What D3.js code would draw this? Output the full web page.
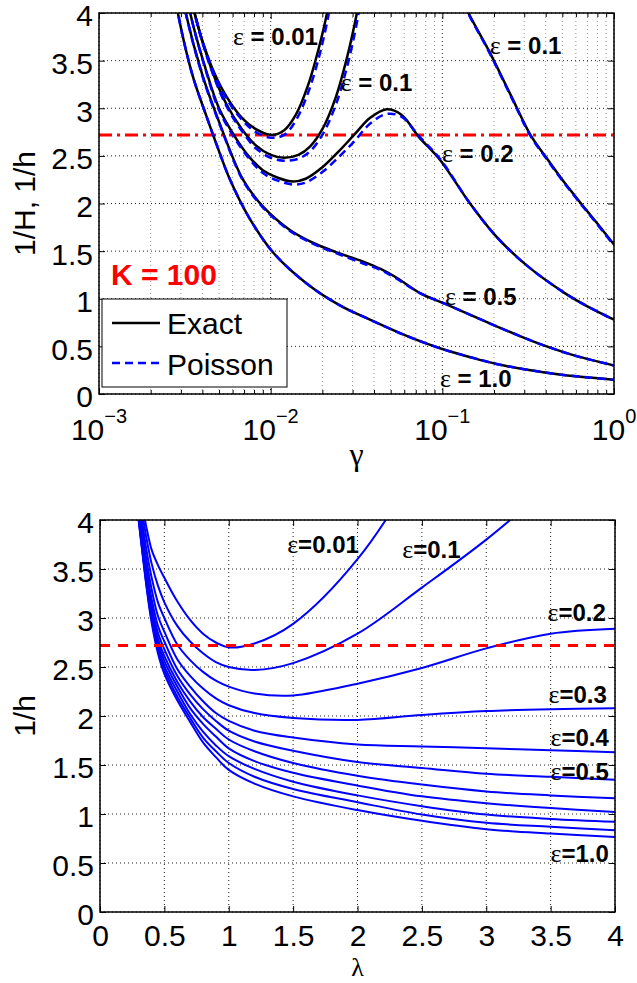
<!DOCTYPE html>
<html>
<head>
<meta charset="utf-8">
<script src="https://cdn.jsdelivr.net/npm/d3@7"></script>
<style>
  body { margin: 0; background: #fff; }
  svg { display: block; }
  text { white-space: pre; }
</style>
</head>
<body>
<svg id="chart" width="637" height="983"></svg>
<script>
// ---- top panel: 1/H (exact) and 1/h (Poisson) vs gamma, K = 100 ----
const gammaE001 = [0.0030, 0.0036, 0.0045, 0.0055, 0.0068, 0.0082, 0.0101, 0.0120, 0.0140, 0.0165, 0.0190, 0.0213, 0.0240];
const exactE001 = [4.75, 4.00, 3.45, 3.13, 2.90, 2.78, 2.72, 2.77, 2.93, 3.24, 3.62, 4.00, 4.55];
const poissonE001 = [4.75, 4.00, 3.44, 3.11, 2.88, 2.75, 2.69, 2.72, 2.87, 3.16, 3.52, 3.90, 4.42];

const gammaE01 = [0.0030, 0.0036, 0.0045, 0.0055, 0.0068, 0.0082, 0.0100, 0.0120, 0.0145, 0.0170, 0.0200, 0.0240, 0.0280, 0.0318, 0.0360, 0.045, 0.060, 0.075, 0.100, 0.120, 0.142, 0.186, 0.250, 0.326, 0.400, 0.500, 0.650, 0.800, 1.000];
const exactE01 = [4.75, 4.00, 3.42, 3.05, 2.78, 2.61, 2.51, 2.48, 2.51, 2.60, 2.78, 3.12, 3.55, 4.00, 4.55, 5.10, 5.40, 5.35, 4.85, 4.30, 4.00, 3.61, 3.14, 2.72, 2.49, 2.25, 1.99, 1.79, 1.57];
const poissonE01 = [4.75, 4.00, 3.41, 3.03, 2.76, 2.58, 2.48, 2.45, 2.47, 2.55, 2.72, 3.04, 3.45, 3.90, 4.45, 5.00, 5.30, 5.25, 4.80, 4.28, 3.99, 3.60, 3.13, 2.71, 2.48, 2.24, 1.98, 1.78, 1.56];

const gammaE02 = [0.0030, 0.0034, 0.0042, 0.0050, 0.0062, 0.0075, 0.0090, 0.0110, 0.0135, 0.0160, 0.0200, 0.0250, 0.0306, 0.0380, 0.0474, 0.0580, 0.0729, 0.0968, 0.145, 0.207, 0.310, 0.506, 0.700, 1.000];
const exactE02 = [4.60, 4.00, 3.40, 3.00, 2.70, 2.49, 2.35, 2.27, 2.23, 2.26, 2.38, 2.55, 2.72, 2.90, 2.99, 2.93, 2.70, 2.46, 2.00, 1.65, 1.35, 1.07, 0.92, 0.78];
const poissonE02 = [4.60, 4.00, 3.39, 2.98, 2.68, 2.47, 2.32, 2.24, 2.20, 2.22, 2.33, 2.49, 2.65, 2.84, 2.94, 2.91, 2.71, 2.47, 2.00, 1.65, 1.35, 1.07, 0.92, 0.78];

const gammaE05 = [0.0028, 0.0032, 0.0040, 0.0050, 0.0069, 0.0090, 0.0130, 0.0180, 0.0240, 0.0346, 0.0440, 0.0542, 0.0741, 0.106, 0.150, 0.207, 0.300, 0.405, 0.600, 1.000];
const exactE05 = [4.55, 4.00, 3.35, 2.86, 2.25, 1.97, 1.72, 1.58, 1.49, 1.39, 1.31, 1.22, 1.06, 0.94, 0.82, 0.71, 0.59, 0.50, 0.40, 0.30];
const poissonE05 = [4.55, 4.00, 3.34, 2.85, 2.24, 1.96, 1.71, 1.57, 1.48, 1.37, 1.30, 1.21, 1.06, 0.94, 0.82, 0.71, 0.59, 0.50, 0.40, 0.30];

const gammaE10 = [0.0026, 0.00288, 0.0035, 0.0042, 0.0050, 0.0058, 0.0075, 0.0104, 0.0162, 0.0253, 0.0379, 0.060, 0.0968, 0.150, 0.207, 0.300, 0.506, 0.750, 1.000];
const exactE10 = [4.50, 4.00, 3.35, 2.93, 2.55, 2.25, 1.85, 1.48, 1.16, 0.93, 0.78, 0.62, 0.48, 0.38, 0.315, 0.26, 0.20, 0.17, 0.15];
const poissonE10 = [4.50, 4.00, 3.35, 2.93, 2.55, 2.25, 1.85, 1.48, 1.16, 0.93, 0.78, 0.62, 0.48, 0.38, 0.315, 0.26, 0.20, 0.17, 0.15];

// ---- bottom panel: 1/h vs lambda ----
const lambdaValues = [0.28, 0.30, 0.33, 0.36, 0.40, 0.45, 0.50, 0.60, 0.70, 0.80, 0.90, 1.00, 1.20, 1.50, 2.00, 2.50, 3.00, 3.50, 4.00];
const hE001 = [4.80, 4.50, 4.15, 3.93, 3.70, 3.54, 3.41, 3.17, 2.98, 2.84, 2.75, 2.70, 2.74, 2.94, 3.60, 4.60, 5.80, 7.20, 8.80];
const hE01 = [4.70, 4.40, 4.06, 3.82, 3.56, 3.33, 3.16, 2.92, 2.76, 2.64, 2.55, 2.50, 2.47, 2.54, 2.84, 3.31, 3.80, 4.35, 4.90];
const hE02 = [4.60, 4.30, 3.96, 3.70, 3.42, 3.16, 3.00, 2.73, 2.57, 2.45, 2.36, 2.30, 2.23, 2.21, 2.33, 2.49, 2.69, 2.84, 2.89];
const hE03 = [4.52, 4.22, 3.88, 3.60, 3.30, 3.02, 2.86, 2.58, 2.41, 2.28, 2.18, 2.11, 2.03, 1.98, 1.96, 2.01, 2.05, 2.07, 2.08];
const hE04 = [4.45, 4.16, 3.82, 3.52, 3.20, 2.92, 2.76, 2.48, 2.30, 2.15, 2.03, 1.95, 1.85, 1.78, 1.71, 1.69, 1.67, 1.65, 1.63];
const hE05 = [4.40, 4.11, 3.77, 3.47, 3.13, 2.85, 2.68, 2.41, 2.22, 2.07, 1.95, 1.85, 1.74, 1.645, 1.53, 1.47, 1.41, 1.38, 1.35];
const hE06 = [4.36, 4.08, 3.74, 3.43, 3.09, 2.79, 2.61, 2.35, 2.15, 1.99, 1.87, 1.76, 1.64, 1.52, 1.39, 1.30, 1.23, 1.19, 1.16];
const hE07 = [4.33, 4.05, 3.71, 3.40, 3.05, 2.75, 2.56, 2.30, 2.08, 1.92, 1.79, 1.67, 1.54, 1.42, 1.29, 1.18, 1.11, 1.06, 1.02];
const hE08 = [4.30, 4.03, 3.69, 3.37, 3.02, 2.71, 2.51, 2.25, 2.02, 1.84, 1.70, 1.59, 1.46, 1.33, 1.19, 1.08, 0.995, 0.95, 0.92];
const hE09 = [4.27, 4.01, 3.67, 3.35, 2.99, 2.67, 2.47, 2.20, 1.98, 1.78, 1.64, 1.52, 1.38, 1.255, 1.12, 0.995, 0.91, 0.87, 0.835];
const hE10 = [4.25, 4.00, 3.66, 3.33, 2.96, 2.64, 2.43, 2.16, 1.94, 1.73, 1.58, 1.45, 1.31, 1.18, 1.04, 0.93, 0.845, 0.80, 0.765];

const refLevel = 2.72;   // 1/h = e

// ---- ticks and labels ----
const valueTicks = [0, 0.5, 1, 1.5, 2, 2.5, 3, 3.5, 4];
const lambdaTicks = [0, 0.5, 1, 1.5, 2, 2.5, 3, 3.5, 4];
const gammaMajor = [0.001, 0.01, 0.1, 1];
const gammaExponents = ['\u22123', '\u22122', '\u22121', '0'];

const topLabelEps = ['0.01', '0.1', '0.1', '0.2', '0.5', '1.0'];
const topLabelAt = [[0.00603, 3.66], [0.0256, 3.18], [0.189, 3.57], [0.0995, 2.44], [0.1035, 0.93], [0.0968, 0.07]];
const botLabelEps = ['0.01', '0.1', '0.2', '0.3', '0.4', '0.5', '1.0'];
const botLabelAt = [[1.454, 3.66], [2.348, 3.61], [3.476, 2.97], [3.484, 2.13], [3.499, 1.69], [3.499, 1.35], [3.499, 0.51]];

const topCurves = [
  { gamma: gammaE001, exact: exactE001, poisson: poissonE001 },
  { gamma: gammaE01, exact: exactE01, poisson: poissonE01 },
  { gamma: gammaE02, exact: exactE02, poisson: poissonE02 },
  { gamma: gammaE05, exact: exactE05, poisson: poissonE05 },
  { gamma: gammaE10, exact: exactE10, poisson: poissonE10 },
];
const bottomCurves = [hE001, hE01, hE02, hE03, hE04, hE05, hE06, hE07, hE08, hE09, hE10];

const sans = "'Liberation Sans', Arial, Helvetica, sans-serif";
const serif = "'Liberation Serif', 'Times New Roman', serif";

const svg = d3.select('#chart');
const width = 515;
const topBox = { left: 99, top: 13, height: 381 };
const botBox = { left: 100, top: 520, height: 392 };

const xTop = d3.scaleLog().domain([0.001, 1]).range([0, width]);
const yTop = d3.scaleLinear().domain([0, 4]).range([topBox.height, 0]);
const xBot = d3.scaleLinear().domain([0, 4]).range([0, width]);
const yBot = d3.scaleLinear().domain([0, 4]).range([botBox.height, 0]);

const gammaMinor = xTop.ticks().filter((d) => Math.abs(Math.log10(d) - Math.round(Math.log10(d))) > 1e-6);

function cleanAxis(sel) {
  sel.select('.domain').remove();
  sel.selectAll('.tick line').attr('stroke', '#000').attr('stroke-width', 1);
}

function drawGrid(g, x, y, h, xMajor, xMinor) {
  const grid = g.append('g').attr('class', 'grid');
  if (xMinor) {
    grid.append('g').selectAll('line').data(xMinor).join('line')
      .attr('x1', (d) => x(d)).attr('x2', (d) => x(d))
      .attr('y1', 0).attr('y2', h)
      .attr('stroke', '#9a9a9a').attr('stroke-width', 1).attr('stroke-dasharray', '1,3');
  }
  grid.append('g').selectAll('line').data(xMajor).join('line')
    .attr('x1', (d) => x(d)).attr('x2', (d) => x(d))
    .attr('y1', 0).attr('y2', h)
    .attr('stroke', '#222').attr('stroke-width', 1).attr('stroke-dasharray', '1,3');
  grid.append('g').selectAll('line').data(valueTicks).join('line')
    .attr('x1', 0).attr('x2', width)
    .attr('y1', (d) => y(d)).attr('y2', (d) => y(d))
    .attr('stroke', '#222').attr('stroke-width', 1).attr('stroke-dasharray', '1,3');
}

function drawAxes(g, x, y, h, xMajor, xMinor, xFormat) {
  // inward ticks on all four sides
  g.append('g').attr('transform', `translate(0,${h})`)
    .call(d3.axisBottom(x).tickValues(xMajor).tickSize(-6).tickPadding(13).tickFormat(xFormat))
    .call(cleanAxis)
    .attr('font-family', sans).attr('font-size', 30);
  g.append('g')
    .call(d3.axisTop(x).tickValues(xMajor).tickSize(-6).tickFormat(''))
    .call(cleanAxis);
  if (xMinor) {
    g.append('g').attr('transform', `translate(0,${h})`)
      .call(d3.axisBottom(x).tickValues(xMinor).tickSize(-4).tickFormat(''))
      .call(cleanAxis);
    g.append('g')
      .call(d3.axisTop(x).tickValues(xMinor).tickSize(-4).tickFormat(''))
      .call(cleanAxis);
  }
  g.append('g')
    .call(d3.axisLeft(y).tickValues(valueTicks).tickSize(-6).tickPadding(6).tickFormat((d) => String(d)))
    .call(cleanAxis)
    .attr('font-family', sans).attr('font-size', 30)
    .call((a) => a.selectAll('text').attr('dy', '0.43em').attr('fill', '#000'));
  g.append('g').attr('transform', `translate(${width},0)`)
    .call(d3.axisRight(y).tickValues(valueTicks).tickSize(-6).tickFormat(''))
    .call(cleanAxis);
  g.append('rect')
    .attr('width', width).attr('height', h)
    .attr('fill', 'none').attr('stroke', '#000').attr('stroke-width', 1.5);
}

// ================= top panel =================
const gTop = svg.append('g').attr('transform', `translate(${topBox.left},${topBox.top})`);
gTop.append('clipPath').attr('id', 'clipTop')
  .append('rect').attr('width', width).attr('height', topBox.height);

drawGrid(gTop, xTop, yTop, topBox.height, gammaMajor, gammaMinor);

const lineTop = d3.line()
  .x((d) => xTop(d[0]))
  .y((d) => yTop(d[1]))
  .curve(d3.curveCatmullRom.alpha(0.5));

const plotTop = gTop.append('g').attr('clip-path', 'url(#clipTop)');

plotTop.append('line')
  .attr('x1', xTop(0.001)).attr('x2', xTop(1))
  .attr('y1', yTop(refLevel)).attr('y2', yTop(refLevel))
  .attr('stroke', '#ff0000').attr('stroke-width', 3)
  .attr('stroke-dasharray', '13,5,3,5');

plotTop.selectAll('path.exact').data(topCurves).join('path')
  .attr('class', 'exact')
  .attr('d', (c) => lineTop(d3.zip(c.gamma, c.exact)))
  .attr('fill', 'none').attr('stroke', '#000').attr('stroke-width', 2.5);

plotTop.selectAll('path.poisson').data(topCurves).join('path')
  .attr('class', 'poisson')
  .attr('d', (c) => lineTop(d3.zip(c.gamma, c.poisson)))
  .attr('fill', 'none').attr('stroke', '#0000ff').attr('stroke-width', 2.5)
  .attr('stroke-dasharray', '8,5');

drawAxes(gTop, xTop, yTop, topBox.height, gammaMajor, gammaMinor, '');

// 10^n labels
gTop.append('g').selectAll('text').data(gammaMajor).join('text')
  .attr('x', (d) => xTop(d))
  .attr('y', topBox.height + 46)
  .attr('text-anchor', 'middle')
  .attr('font-family', sans).attr('font-size', 30)
  .each(function (d, i) {
    const t = d3.select(this);
    t.append('tspan').text('10');
    t.append('tspan').attr('font-size', 20).attr('dy', -17).text(gammaExponents[i]);
  });

// curve labels
gTop.append('g').selectAll('text').data(topLabelEps).join('text')
  .attr('x', (d, i) => xTop(topLabelAt[i][0]))
  .attr('y', (d, i) => yTop(topLabelAt[i][1]))
  .each(function (d) {
    const t = d3.select(this);
    t.append('tspan').attr('font-family', serif).attr('font-size', 26).text('\u03b5');
    t.append('tspan').attr('font-family', sans).attr('font-size', 24).attr('font-weight', 'bold').text(' = ' + d);
  });

gTop.append('text')
  .attr('x', xTop(0.001175)).attr('y', yTop(1.145))
  .attr('font-family', sans).attr('font-size', 30).attr('font-weight', 'bold')
  .attr('fill', '#ff0000')
  .text('K = 100');

// legend
const legend = gTop.append('g').attr('transform', 'translate(3,286)');
legend.append('rect')
  .attr('width', 185).attr('height', 88)
  .attr('fill', '#fff').attr('stroke', '#000').attr('stroke-width', 1);
legend.append('line')
  .attr('x1', 10).attr('x2', 58).attr('y1', 24).attr('y2', 24)
  .attr('stroke', '#000').attr('stroke-width', 2.5);
legend.append('line')
  .attr('x1', 10).attr('x2', 58).attr('y1', 64).attr('y2', 64)
  .attr('stroke', '#0000ff').attr('stroke-width', 2.5).attr('stroke-dasharray', '8,5');
legend.append('text')
  .attr('x', 65).attr('y', 35)
  .attr('font-family', sans).attr('font-size', 30)
  .text('Exact');
legend.append('text')
  .attr('x', 65).attr('y', 76)
  .attr('font-family', sans).attr('font-size', 30)
  .text('Poisson');

// axis titles
gTop.append('text')
  .attr('x', width / 2).attr('y', topBox.height + 71)
  .attr('text-anchor', 'middle')
  .attr('font-family', serif).attr('font-size', 32)
  .text('\u03b3');
svg.append('text')
  .attr('transform', `translate(35,${topBox.top + topBox.height / 2}) rotate(-90)`)
  .attr('text-anchor', 'middle')
  .attr('font-family', sans).attr('font-size', 30)
  .text('1/H, 1/h');

// ================= bottom panel =================
const gBot = svg.append('g').attr('transform', `translate(${botBox.left},${botBox.top})`);
gBot.append('clipPath').attr('id', 'clipBot')
  .append('rect').attr('width', width).attr('height', botBox.height);

drawGrid(gBot, xBot, yBot, botBox.height, lambdaTicks, null);

const lineBot = d3.line()
  .x((d) => xBot(d[0]))
  .y((d) => yBot(d[1]))
  .curve(d3.curveCatmullRom.alpha(0.5));

const plotBot = gBot.append('g').attr('clip-path', 'url(#clipBot)');

plotBot.selectAll('path.h').data(bottomCurves).join('path')
  .attr('class', 'h')
  .attr('d', (vals) => lineBot(d3.zip(lambdaValues, vals)))
  .attr('fill', 'none').attr('stroke', '#0000ff').attr('stroke-width', 2);

plotBot.append('line')
  .attr('x1', xBot(0)).attr('x2', xBot(4))
  .attr('y1', yBot(refLevel)).attr('y2', yBot(refLevel))
  .attr('stroke', '#ff0000').attr('stroke-width', 3)
  .attr('stroke-dasharray', '10,8');

drawAxes(gBot, xBot, yBot, botBox.height, lambdaTicks, null, (d) => String(d));

gBot.append('g').selectAll('text').data(botLabelEps).join('text')
  .attr('x', (d, i) => xBot(botLabelAt[i][0]))
  .attr('y', (d, i) => yBot(botLabelAt[i][1]))
  .each(function (d) {
    const t = d3.select(this);
    t.append('tspan').attr('font-family', serif).attr('font-size', 26).text('\u03b5');
    t.append('tspan').attr('font-family', sans).attr('font-size', 24).attr('font-weight', 'bold').text('=' + d);
  });

gBot.append('text')
  .attr('x', width / 2).attr('y', botBox.height + 64)
  .attr('text-anchor', 'middle')
  .attr('font-family', serif).attr('font-size', 26)
  .text('\u03bb');
svg.append('text')
  .attr('transform', `translate(35,${botBox.top + botBox.height / 2}) rotate(-90)`)
  .attr('text-anchor', 'middle')
  .attr('font-family', sans).attr('font-size', 30)
  .text('1/h');
</script>
</body>
</html>
